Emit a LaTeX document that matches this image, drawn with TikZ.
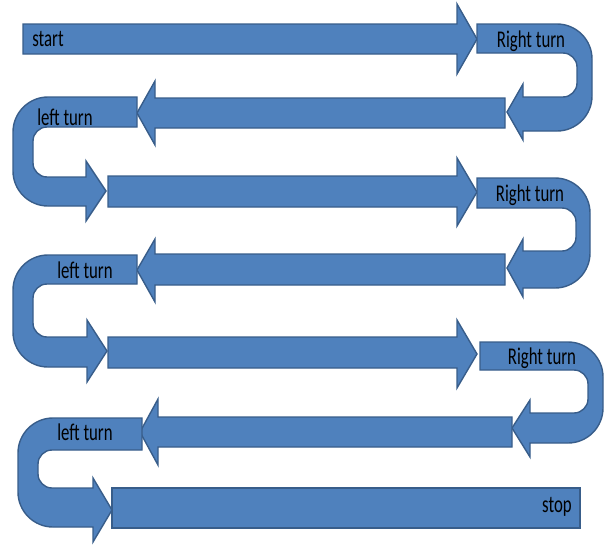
\documentclass[tikz,border=0pt]{standalone}
\usepackage{fontspec}
\setmainfont{Carlito}
\definecolor{arrowfill}{HTML}{4F81BD}
\definecolor{arrowline}{HTML}{385D8A}
\tikzset{
  band/.style={fill=arrowfill, draw=arrowline, line width=1.4pt, line join=miter},
  lbl/.style={inner sep=0pt, text=black, font=\fontsize{24}{24}\selectfont},
}
\newcommand{\sq}[1]{\scalebox{0.7}[1]{#1}}
\begin{document}
\begin{tikzpicture}[x=1pt, y=-1pt]
\useasboundingbox (0,0) rectangle (608,544);
% row 1: start arrow
\draw[band] (23,24) -- (457,24) -- (457,4) -- (477,39) -- (457,74) -- (457,54) -- (23,54) -- cycle;
% right turn 1
\draw[band] (477,24) -- (557,24) .. controls (576.3,24) and (592,39.7) .. (592,59) -- (592,96) .. controls (592,115.3) and (576.3,131) .. (557,131) -- (523,131) -- (523,140) -- (507,112) -- (523,84) -- (523,97) -- (563,97) .. controls (570.7,97) and (577,90.7) .. (577,83) -- (577,67) .. controls (577,59.3) and (570.7,53) .. (563,53) -- (477,53) -- cycle;
% row 2
\draw[band] (505,98) -- (155,98) -- (155,81) -- (137,113) -- (155,145) -- (155,128) -- (505,128) -- cycle;
% left turn 1
\draw[band] (137,97) -- (48,97) .. controls (28.7,97) and (13,112.7) .. (13,132) -- (13,171) .. controls (13,190.3) and (28.7,206) .. (48,206) -- (86,206) -- (86,221) -- (106,191) -- (86,161) -- (86,177) -- (47,177) .. controls (39.3,177) and (33,170.7) .. (33,163) -- (33,141) .. controls (33,133.3) and (39.3,127) .. (47,127) -- (137,127) -- cycle;
% row 3
\draw[band] (108,176) -- (457,176) -- (457,158) -- (477,192) -- (457,226) -- (457,207) -- (108,207) -- cycle;
% right turn 2
\draw[band] (477,178) -- (555,178) .. controls (574.3,178) and (590,193.7) .. (590,213) -- (590,253) .. controls (590,272.3) and (574.3,288) .. (555,288) -- (523,288) -- (523,297) -- (507,268) -- (523,239) -- (523,251) -- (562,251) .. controls (569.7,251) and (576,244.7) .. (576,237) -- (576,222) .. controls (576,214.3) and (569.7,208) .. (562,208) -- (477,208) -- cycle;
% row 4
\draw[band] (505,254) -- (155,254) -- (155,239) -- (137,270) -- (155,302) -- (155,285) -- (505,285) -- cycle;
% left turn 2
\draw[band] (137,255) -- (48,255) .. controls (28.7,255) and (13,270.7) .. (13,290) -- (13,332) .. controls (13,351.3) and (28.7,367) .. (48,367) -- (87,367) -- (87,382) -- (107,351) -- (87,320) -- (87,337) -- (47,337) .. controls (39.3,337) and (33,330.7) .. (33,323) -- (33,298) .. controls (33,290.3) and (39.3,284) .. (47,284) -- (137,284) -- cycle;
% row 5
\draw[band] (108,337) -- (457,337) -- (457,320) -- (477,354) -- (457,388) -- (457,368) -- (108,368) -- cycle;
% right turn 3
\draw[band] (480,342) -- (568,342) .. controls (587.3,342) and (603,357.7) .. (603,377) -- (603,408) .. controls (603,427.3) and (587.3,443) .. (568,443) -- (530,443) -- (530,457) -- (512,428) -- (530,400) -- (530,413) -- (574,413) .. controls (581.7,413) and (588,406.7) .. (588,399) -- (588,384) .. controls (588,376.3) and (581.7,370) .. (574,370) -- (480,370) -- cycle;
% row 6
\draw[band] (512,417) -- (158,417) -- (158,399) -- (140,432) -- (158,465) -- (158,447) -- (512,447) -- cycle;
% left turn 3
\draw[band] (142,418) -- (53,418) .. controls (33.7,418) and (18,433.7) .. (18,453) -- (18,492) .. controls (18,511.3) and (33.7,527) .. (53,527) -- (93,527) -- (93,542) -- (112,510) -- (93,478) -- (93,488) -- (52,488) .. controls (44.3,488) and (38,481.7) .. (38,474) -- (38,464) .. controls (38,456.3) and (44.3,450) .. (52,450) -- (142,450) -- cycle;
% row 7: stop
\draw[band] (112,488) rectangle (580,528);
% labels
\node[lbl] (start) at (48,39) {\sq{start}};
\node[lbl] (rt1) at (531,41) {\sq{Right turn}};
\node[lbl] (lt1) at (65,117) {\sq{left turn}};
\node[lbl] (rt2) at (530,195) {\sq{Right turn}};
\node[lbl] (lt2) at (85,270) {\sq{left turn}};
\node[lbl] (rt3) at (542,358) {\sq{Right turn}};
\node[lbl] (lt3) at (85,432) {\sq{left turn}};
\node[lbl] (stop) at (557,507) {\sq{stop}};
\end{tikzpicture}
\end{document}
